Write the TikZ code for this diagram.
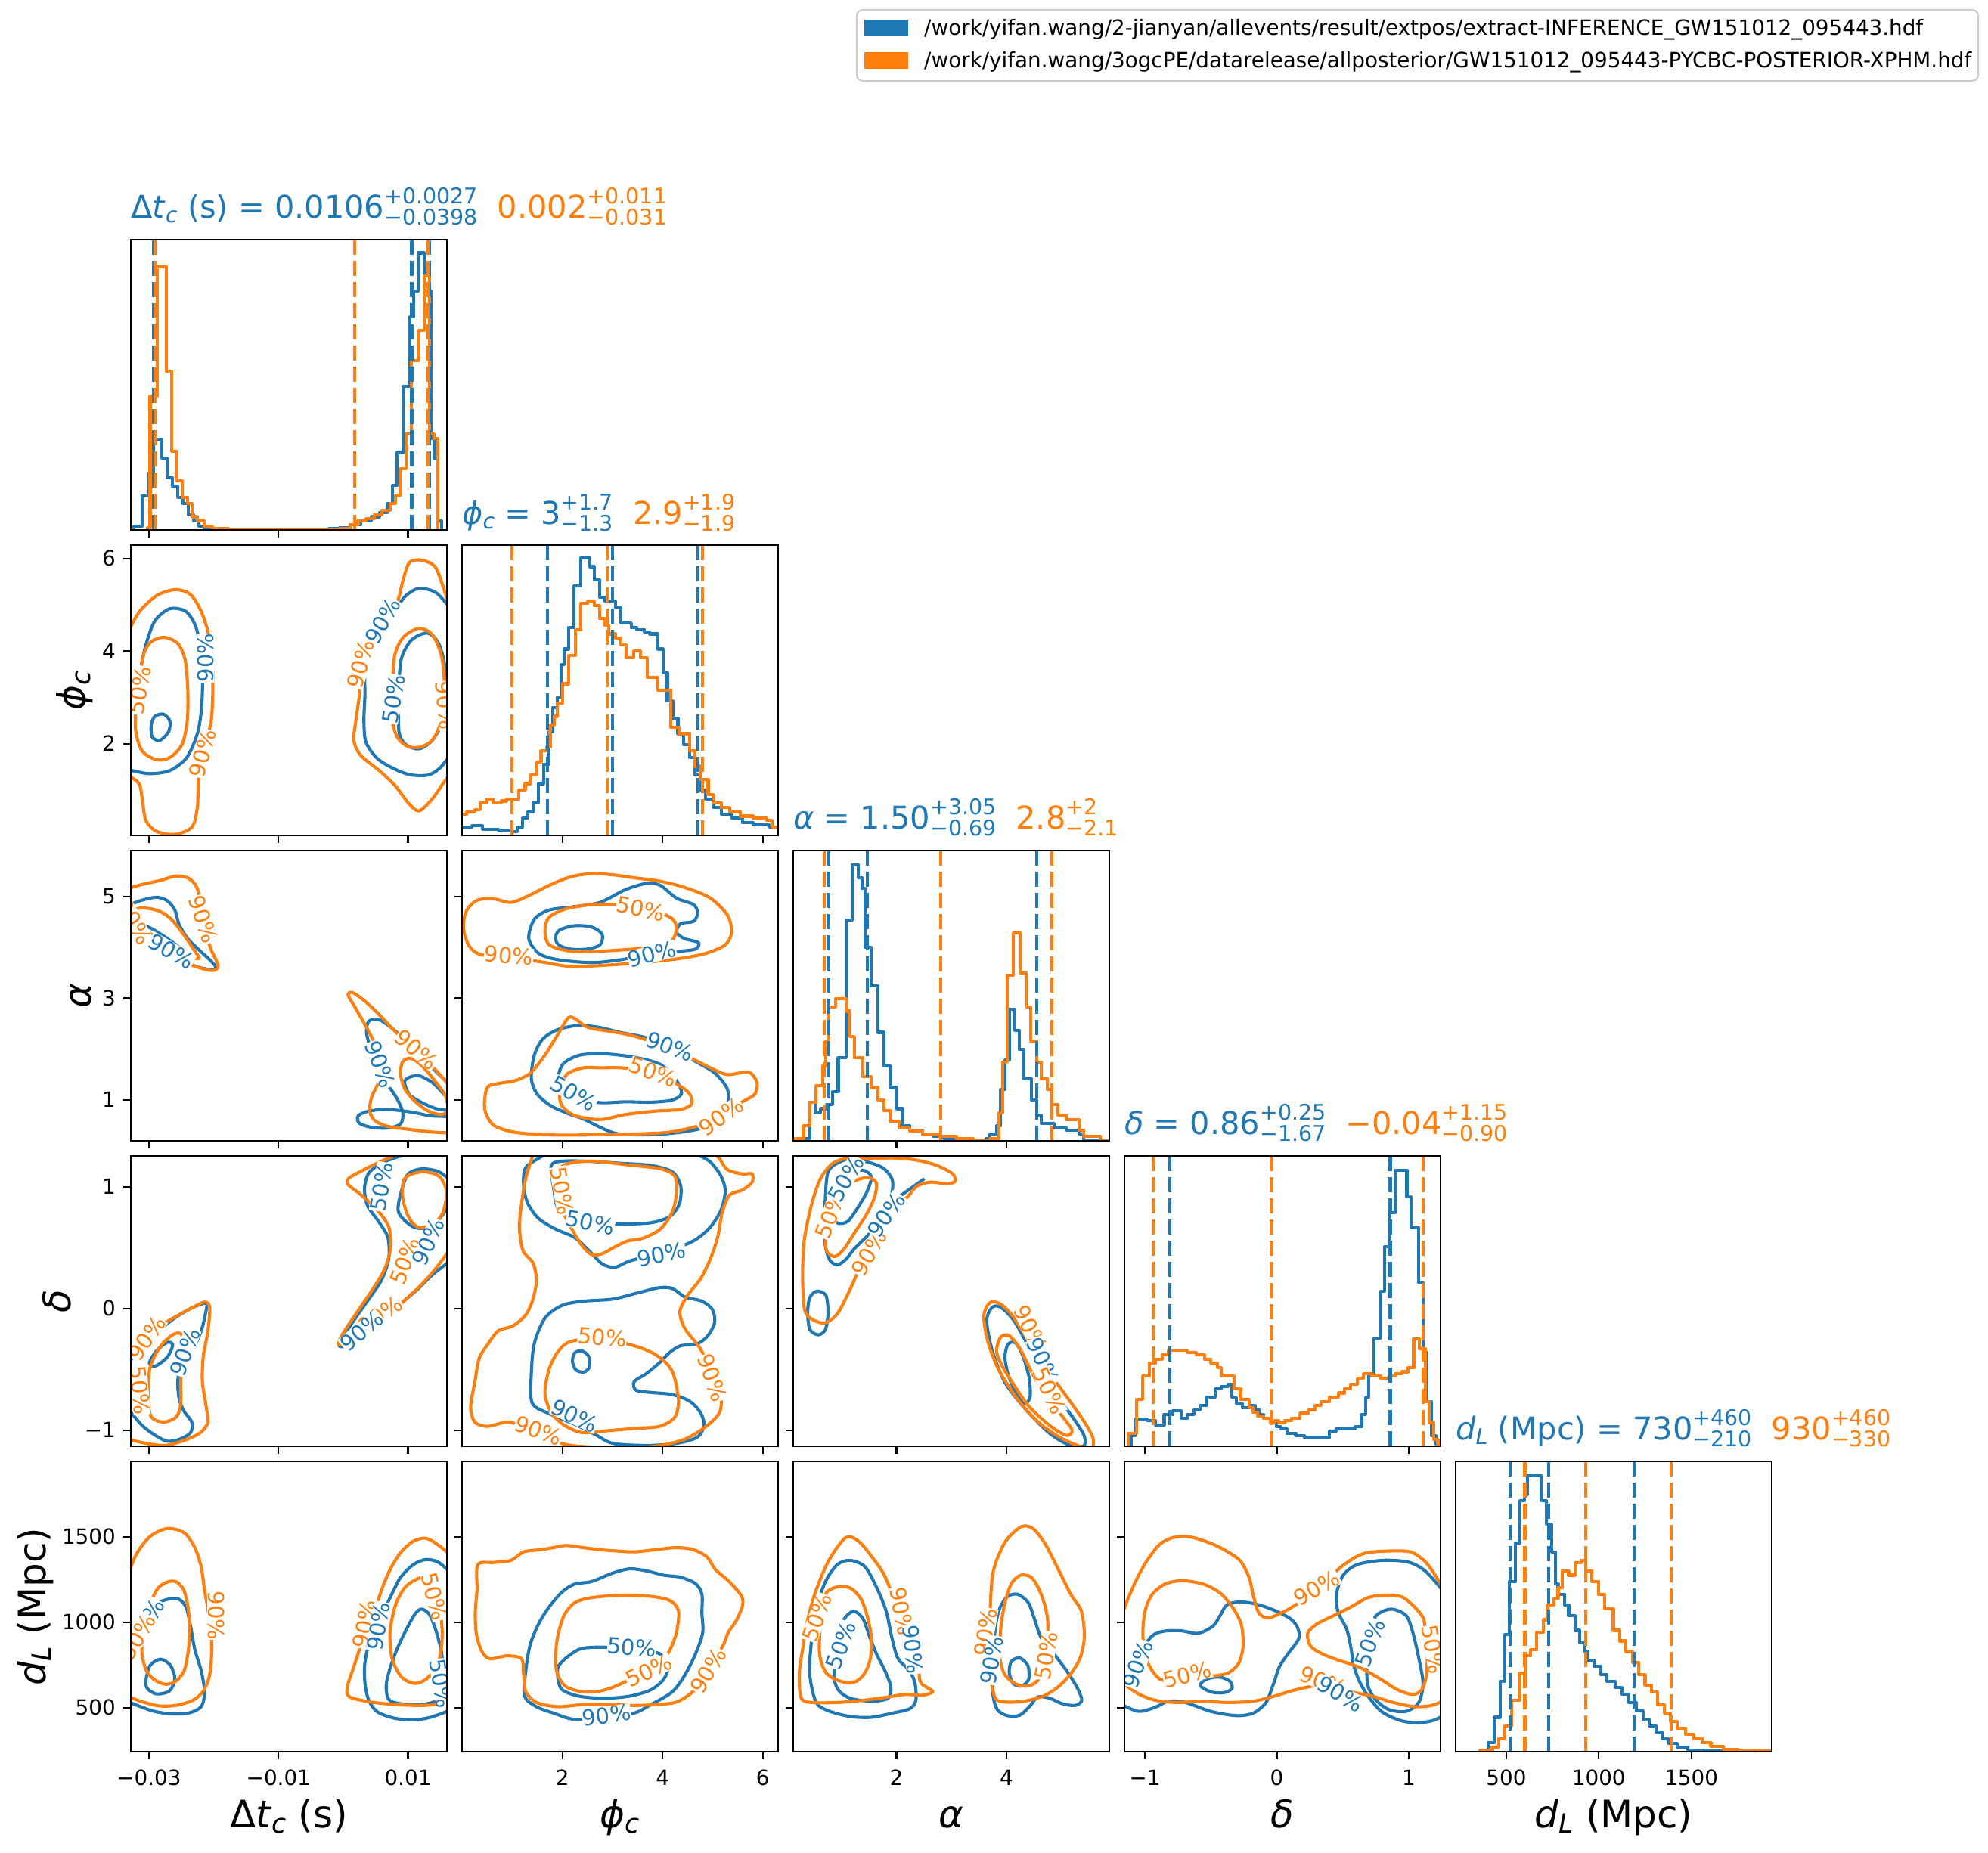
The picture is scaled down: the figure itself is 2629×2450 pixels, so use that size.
\documentclass[tikz,border=0pt]{standalone}
\usepackage{fontspec}
\setmainfont{DejaVu Sans}[ItalicFont={DejaVu Sans Oblique}]
\definecolor{cblue}{HTML}{1F77B4}
\definecolor{corange}{HTML}{FF7F0E}
\definecolor{leggray}{HTML}{CCCCCC}
\newcommand\tickf{\fontsize{27.8pt}{33pt}\selectfont}
\newcommand\ttlf{\fontsize{41.5pt}{48pt}\selectfont}
\newcommand\scrf{\fontsize{28.5pt}{32pt}\selectfont}
\newcommand\labf{\fontsize{50pt}{60pt}\selectfont}
\newcommand\labscrf{\fontsize{35pt}{40pt}\selectfont}
\newcommand\clabf{\fontsize{29pt}{34pt}\selectfont}
\newsavebox\supbx
\newsavebox\subbx
\newcommand\pmst[2]{\sbox\supbx{\scrf #1}\sbox\subbx{\scrf #2}\rlap{\raisebox{18.5pt}{\usebox\supbx}}\raisebox{-9pt}{\usebox\subbx}\ifdim\wd\supbx>\wd\subbx\hspace{\dimexpr\wd\supbx-\wd\subbx\relax}\fi}
\newcommand\subsc[1]{\raisebox{-6pt}{\scrf\itshape #1}}
\newcommand\labsub[1]{\raisebox{-7.5pt}{\labscrf\itshape #1}}
\tikzset{
 Z3/.style={shift={(0pt,-230pt)},x=0.7015pt,y=-0.574pt},
 Z4/.style={shift={(165pt,-1115pt)},x=0.5612pt,y=-0.5612pt},
 Z5/.style={shift={(1040pt,-1040pt)},x=0.5612pt,y=-0.5612pt},
 Z6/.style={shift={(165pt,-1570pt)},x=0.5612pt,y=-0.5612pt},
 Z7/.style={shift={(1040pt,-1570pt)},x=0.5612pt,y=-0.5612pt},
 Z8/.style={shift={(1749pt,-1570pt)},x=0.5612pt,y=-0.5612pt},
 cb/.style={draw=cblue,line width=4.1pt,line join=round},
 co/.style={draw=corange,line width=4.1pt,line join=round},
 db/.style={draw=cblue,line width=4.1pt,dash pattern=on 20pt off 8pt},
 dor/.style={draw=corange,line width=4.1pt,dash pattern=on 20pt off 8pt},
 frame/.style={draw=black,line width=2.6pt},
 tick/.style={draw=black,line width=2.2pt},
 tl/.style={font=\tickf,inner sep=0pt},
 clab/.style={font=\clabf,inner sep=0.3pt,fill=white},
 lb/.style={clab,text=cblue},
 lo/.style={clab,text=corange},
}
\begin{document}
\begin{tikzpicture}[x=1pt,y=-1pt]
\fill[white] (0,0) rectangle (2629,2450);
\useasboundingbox (0,0) rectangle (2629,2450);

% ---------------- legend
\draw[draw=leggray,line width=2pt,rounded corners=8pt,fill=white] (1133,13) rectangle (2616,107);
\fill[cblue] (1143,26) rectangle (1201,48);
\fill[corange] (1143,69) rectangle (1201,91);
\node[tl,anchor=base west] (leg1) at (1222,46) {/work/yifan.wang/2-jianyan/allevents/result/extpos/extract-INFERENCE\_GW151012\_095443.hdf};
\node[tl,anchor=base west] (leg2) at (1222,89) {/work/yifan.wang/3ogcPE/datarelease/allposterior/GW151012\_095443-PYCBC-POSTERIOR-XPHM.hdf};

% ---------------- titles
\node[anchor=base west,inner sep=0pt,text=cblue] (t0) at (173,288) {\ttlf Δ\textit{t}\subsc{c} (s) = 0.0106\pmst{+0.0027}{−0.0398}\hspace{26pt}\textcolor{corange}{0.002\pmst{+0.011}{−0.031}}};
\node[anchor=base west,inner sep=0pt,text=cblue] (t1) at (611,693) {\ttlf \textit{ϕ}\subsc{c} = 3\pmst{+1.7}{−1.3}\hspace{26pt}\textcolor{corange}{2.9\pmst{+1.9}{−1.9}}};
\node[anchor=base west,inner sep=0pt,text=cblue] (t2) at (1049,1096) {\ttlf \textit{α} = 1.50\pmst{+3.05}{−0.69}\hspace{26pt}\textcolor{corange}{2.8\pmst{+2}{−2.1}}};
\node[anchor=base west,inner sep=0pt,text=cblue] (t3) at (1487,1500) {\ttlf \textit{δ} = 0.86\pmst{+0.25}{−1.67}\hspace{26pt}\textcolor{corange}{−0.04\pmst{+1.15}{−0.90}}};
\node[anchor=base west,inner sep=0pt,text=cblue] (t4) at (1925,1904) {\ttlf \textit{d}\subsc{L} (Mpc) = 730\pmst{+460}{−210}\hspace{26pt}\textcolor{corange}{930\pmst{+460}{−330}}};

% ================= HIST 0 (dt_c)
\begin{scope}
\clip (173,317) rectangle ++(418,384);
\begin{scope}[Z3]
\draw[cb] (252,822) -- (252,812) -| (268,742) -| (279,690) -| (290,612) -| (305,655) -| (315,700) -| (325,720) -| (335,745) -| (345,760) -| (355,785) -| (365,800) -| (375,812) -| (385,818) -| (400,821) -| (620,818) -| (640,815) -| (660,808) -| (680,800) -| (700,790) -| (715,780) -| (730,760) -| (740,718) -| (748,642) -| (760,490) -| (772,330) -| (780,270) -| (788,182) -| (800,270) -| (812,610) -| (818,655) -| (825,800) -| (832,822) -- (842,822);
\draw[co] (278,822) -- (278,815) -| (283,512) -| (297,215) -| (314,455) -| (324,640) -| (334,707) -| (344,745) -| (354,760) -| (362,790) -| (372,800) -| (385,812) -| (400,818) -| (430,821) -| (640,818) -| (660,808) -| (675,800) -| (690,795) -| (705,785) -| (720,775) -| (735,760) -| (745,740) -| (755,680) -| (765,600) -| (775,430) -| (790,360) -| (800,235) -| (810,600) -| (818,610) -| (825,822) -- (842,822);
\end{scope}
\draw[db] (203,317) -- (203,701);
\draw[db] (544.5,317) -- (544.5,701);
\draw[db] (567.5,317) -- (567.5,701);
\draw[dor] (205,317) -- (205,701);
\draw[dor] (469,317) -- (469,701);
\draw[dor] (566,317) -- (566,701);
\end{scope}

% ================= HIST 1 (phi_c)
\begin{scope}
\clip (611,721) rectangle ++(418,384);
\begin{scope}[Z3]
\draw[cb] (873,1505) -| (890,1502) -| (910,1510) -| (940,1512) -| (965,1515) -| (975,1505) -| (985,1485) -| (995,1470) -| (1005,1450) -| (1015,1405) -| (1025,1360) -| (1035,1285) -| (1042,1230) -| (1050,1205) -| (1058,1130) -| (1064,1095) -| (1072,1045) -| (1082,950) -| (1095,885) -| (1112,905) -| (1120,935) -| (1130,975) -| (1140,985) -| (1160,1000) -| (1170,1035) -| (1190,1045) -| (1200,1050) -| (1215,1055) -| (1225,1060) -| (1240,1095) -| (1250,1150) -| (1258,1215) -| (1268,1255) -| (1278,1290) -| (1288,1315) -| (1300,1345) -| (1310,1385) -| (1320,1420) -| (1330,1440) -| (1345,1460) -| (1360,1475) -| (1380,1485) -| (1400,1495) -| (1420,1500) -| (1450,1505) -| (1470,1510);
\draw[co] (873,1475) -| (880,1470) -| (895,1465) -| (905,1450) -| (918,1440) -| (930,1450) -| (945,1445) -| (955,1440) -| (978,1420) -| (990,1405) -| (1000,1385) -| (1012,1355) -| (1020,1330) -| (1030,1320) -| (1037,1270) -| (1045,1250) -| (1050,1220) -| (1060,1175) -| (1072,1110) -| (1085,1050) -| (1095,990) -| (1108,985) -| (1120,995) -| (1130,1025) -| (1140,1040) -| (1148,1060) -| (1160,1070) -| (1170,1085) -| (1180,1115) -| (1195,1100) -| (1208,1115) -| (1220,1160) -| (1240,1190) -| (1265,1275) -| (1280,1290) -| (1300,1330) -| (1310,1365) -| (1320,1395) -| (1335,1430) -| (1345,1450) -| (1360,1460) -| (1375,1470) -| (1395,1480) -| (1420,1485) -| (1445,1490) -| (1455,1505) -| (1470,1510);
\end{scope}
\draw[db] (723.7,721) -- (723.7,1105);
\draw[db] (809.9,721) -- (809.9,1105);
\draw[db] (922.6,721) -- (922.6,1105);
\draw[dor] (677.3,721) -- (677.3,1105);
\draw[dor] (803.3,721) -- (803.3,1105);
\draw[dor] (929.2,721) -- (929.2,1105);
\end{scope}

% ================= HIST 2 (alpha)
\begin{scope}
\clip (1049,1125) rectangle ++(418,384);
\begin{scope}[Z5]
\draw[cb] (20,838) -- (20,830) -| (45,830) -| (55,745) -| (68,770) -| (80,760) -| (95,750) -| (108,720) -| (122,640) -| (140,315) -| (155,185) -| (170,215) -| (178,240) -| (185,380) -| (200,470) -| (215,580) -| (230,660) -| (245,710) -| (260,760) -| (275,800) -| (290,810) -| (320,820) -| (345,825) -| (370,830) -| (400,835) -| (470,830) -| (480,820) -| (495,800) -| (505,715) -| (515,645) -| (525,525) -| (538,575) -| (548,620) -| (560,690) -| (578,740) -| (590,775) -| (600,795) -| (630,805) -| (660,810) -| (690,820) -| (700,835) -- (765,835);
\draw[co] (20,838) -- (20,830) -| (40,800) -| (55,745) -| (70,705) -| (85,660) -| (92,600) -| (100,520) -| (115,500) -| (140,530) -| (150,590) -| (160,640) -| (180,685) -| (200,710) -| (215,740) -| (230,765) -| (245,790) -| (265,805) -| (290,812) -| (320,820) -| (360,825) -| (400,830) -| (440,835) -| (480,830) -| (500,770) -| (510,650) -| (520,445) -| (535,345) -| (550,440) -| (565,520) -| (575,600) -| (590,650) -| (600,690) -| (615,715) -| (625,750) -| (640,775) -| (660,785) -| (690,810) -| (700,825) -| (740,835) -- (765,835);
\end{scope}
\draw[db] (1096,1125) -- (1096,1509);
\draw[db] (1147,1125) -- (1147,1509);
\draw[db] (1371,1125) -- (1371,1509);
\draw[dor] (1090,1125) -- (1090,1509);
\draw[dor] (1244,1125) -- (1244,1509);
\draw[dor] (1391,1125) -- (1391,1509);
\end{scope}

% ================= HIST 3 (delta)
\begin{scope}
\clip (1487,1529) rectangle ++(418,384);
\begin{scope}[Z5]
\draw[cb] (812,1558) -- (812,1530) -| (822,1492) -| (850,1495) -| (870,1505) -| (890,1480) -| (910,1472) -| (930,1490) -| (945,1480) -| (960,1470) -| (975,1460) -| (990,1440) -| (1010,1420) -| (1025,1415) -| (1040,1410) -| (1050,1440) -| (1060,1455) -| (1075,1465) -| (1090,1460) -| (1105,1470) -| (1115,1480) -| (1125,1490) -| (1140,1495) -| (1155,1510) -| (1165,1515) -| (1180,1525) -| (1200,1530) -| (1220,1535) -| (1270,1535) -| (1280,1520) -| (1295,1515) -| (1320,1515) -| (1340,1510) -| (1355,1480) -| (1365,1440) -| (1372,1390) -| (1385,1300) -| (1400,1190) -| (1410,1085) -| (1420,1005) -| (1435,905) -| (1462,968) -| (1472,1040) -| (1490,1170) -| (1500,1335) -| (1510,1450) -| (1520,1530) -| (1530,1550) -- (1545,1550);
\draw[co] (805,1558) -- (805,1525) -| (825,1445) -| (840,1390) -| (855,1360) -| (870,1350) -| (885,1340) -| (900,1330) -| (945,1335) -| (965,1340) -| (985,1350) -| (1000,1360) -| (1015,1370) -| (1025,1390) -| (1045,1390) -| (1055,1420) -| (1070,1445) -| (1090,1465) -| (1100,1475) -| (1110,1485) -| (1125,1490) -| (1140,1500) -| (1150,1495) -| (1160,1500) -| (1175,1495) -| (1190,1490) -| (1210,1478) -| (1230,1470) -| (1245,1460) -| (1260,1450) -| (1280,1440) -| (1300,1430) -| (1315,1420) -| (1330,1410) -| (1345,1395) -| (1360,1385) -| (1380,1390) -| (1400,1395) -| (1420,1390) -| (1435,1385) -| (1450,1380) -| (1465,1370) -| (1478,1302) -| (1492,1325) -| (1505,1450) -| (1515,1500) -| (1525,1540) -| (1535,1555) -- (1545,1555);
\end{scope}
\draw[db] (1547,1529) -- (1547,1913);
\draw[db] (1838.5,1529) -- (1838.5,1913);
\draw[db] (1882,1529) -- (1882,1913);
\draw[dor] (1524.6,1529) -- (1524.6,1913);
\draw[dor] (1681.5,1529) -- (1681.5,1913);
\draw[dor] (1882,1529) -- (1882,1913);
\end{scope}

% ================= HIST 4 (d_L)
\begin{scope}
\clip (1925,1933) rectangle ++(418,384);
\begin{scope}[Z8]
\draw[cb] (316,1333) -- (380,1333) -| (380,1328) -| (390,1310) -| (405,1250) -| (418,1165) -| (430,1055) -| (440,930) -| (455,840) -| (465,740) -| (475,725) -| (483,680) -| (515,740) -| (528,795) -| (540,860) -| (548,935) -| (555,960) -| (570,985) -| (580,1010) -| (595,1045) -| (605,1075) -| (618,1095) -| (625,1115) -| (640,1130) -| (655,1150) -| (670,1165) -| (690,1180) -| (705,1195) -| (720,1215) -| (740,1235) -| (755,1255) -| (770,1270) -| (785,1285) -| (800,1300) -| (815,1312) -| (835,1320) -| (860,1327) -| (900,1330) -- (1060,1330);
\draw[co] (316,1332) -| (370,1328) -| (400,1320) -| (415,1300) -| (430,1270) -| (445,1210) -| (465,1145) -| (478,1105) -| (490,1090) -| (505,1050) -| (520,1020) -| (530,985) -| (545,970) -| (555,945) -| (565,905) -| (580,915) -| (595,885) -| (610,880) -| (620,905) -| (635,930) -| (650,960) -| (665,995) -| (685,1045) -| (700,1070) -| (715,1095) -| (730,1120) -| (745,1150) -| (760,1175) -| (775,1190) -| (790,1220) -| (805,1240) -| (820,1260) -| (835,1275) -| (855,1290) -| (875,1300) -| (895,1310) -| (915,1318) -| (945,1325) -| (980,1328) -| (1020,1330) -- (1060,1330);
\end{scope}
\draw[db] (1997,1933) -- (1997,2317);
\draw[db] (2048,1933) -- (2048,2317);
\draw[db] (2161,1933) -- (2161,2317);
\draw[dor] (2016.5,1933) -- (2016.5,2317);
\draw[dor] (2097,1933) -- (2097,2317);
\draw[dor] (2210,1933) -- (2210,2317);
\end{scope}

% ================= PANEL (1,0)
\begin{scope}
\clip (173,721) rectangle ++(418,384);
\begin{scope}[Z3]
\draw[cb] plot[smooth] coordinates {(240,1225) (255,1190) (265,1140) (275,1085) (292,1030) (320,1002) (350,1008) (368,1040) (378,1090) (382,1150) (380,1230) (372,1290) (352,1345) (320,1375) (280,1382) (240,1372)};
\draw[cb] plot[smooth cycle] coordinates {(285,1270) (292,1250) (308,1245) (320,1260) (318,1285) (302,1305) (287,1298)};
\draw[cb] plot[smooth] coordinates {(848,1000) (822,965) (790,955) (765,972) (748,1000) (725,1040) (700,1080) (688,1140) (688,1200) (686,1260) (690,1310) (712,1348) (745,1372) (775,1385) (808,1385) (830,1368) (848,1340)};
\draw[cb] plot[smooth cycle] coordinates {(805,1058) (826,1080) (838,1130) (840,1200) (834,1262) (815,1305) (790,1325) (765,1315) (752,1285) (752,1200) (756,1120) (775,1075)};
\draw[co] plot[smooth] coordinates {(240,1060) (262,1010) (295,972) (330,958) (358,968) (378,1005) (392,1055) (400,1120) (401,1200) (398,1262) (390,1300) (380,1345) (374,1400) (372,1460) (362,1505) (330,1522) (295,1515) (275,1490) (268,1440) (262,1405) (240,1385)};
\draw[co] plot[smooth cycle] coordinates {(262,1180) (270,1110) (285,1078) (310,1068) (335,1082) (349,1120) (354,1190) (353,1260) (343,1315) (320,1345) (295,1350) (268,1330) (256,1285) (256,1230)};
\draw[co] plot[smooth] coordinates {(845,990) (835,950) (820,905) (795,890) (772,895) (760,935) (748,990) (725,1030) (700,1065) (688,1110) (680,1180) (672,1250) (667,1305) (680,1340) (715,1375) (745,1410) (770,1450) (790,1468) (815,1440) (835,1405) (848,1385)};
\draw[co] plot[smooth cycle] coordinates {(790,1047) (815,1062) (832,1110) (838,1180) (834,1250) (818,1300) (795,1320) (770,1320) (750,1300) (740,1260) (740,1180) (744,1110) (760,1068)};
\node[lb,rotate=90] at (388,1115) {90\%};
\node[lo,rotate=75] at (382,1335) {90\%};
\node[lo,rotate=80] at (263,1190) {50\%};
\node[lo,rotate=75] at (680,1130) {90\%};
\node[lb,rotate=60] at (722,1030) {90\%};
\node[lb,rotate=80] at (742,1210) {50\%};
\node[lo,rotate=-85] at (840,1225) {90\%};
\end{scope}
\end{scope}

% ================= PANEL (2,0)
\begin{scope}
\clip (173,1125) rectangle ++(418,384);
\begin{scope}[Z4]
\draw[cb] plot[smooth] coordinates {(5,148) (40,135) (75,128) (100,136) (118,158) (128,192) (148,225) (178,255) (205,280) (215,295) (198,298) (165,290) (125,270) (85,245) (45,215) (5,190)};
\draw[cb] plot[smooth cycle] coordinates {(40,195) (60,200) (100,225) (140,255) (160,275) (150,280) (115,262) (75,237) (45,215) (35,202)};
\draw[cb] plot[smooth] coordinates {(775,578) (745,550) (705,510) (665,468) (630,437) (600,417) (575,420) (570,450) (585,500) (610,555) (640,600) (655,635) (650,662) (620,672) (580,670) (552,660) (550,643) (575,632) (620,628) (680,635) (720,643) (775,645)};
\draw[cb] plot[smooth cycle] coordinates {(660,560) (690,548) (725,565) (755,595) (775,615) (775,628) (740,628) (700,612) (670,592)};
\draw[co] plot[smooth] coordinates {(5,108) (40,98) (85,88) (120,78) (150,83) (170,105) (180,150) (190,210) (205,255) (220,288) (212,300) (190,298) (150,285) (110,265) (70,240) (35,218) (5,205)};
\draw[co] plot[smooth] coordinates {(5,162) (40,153) (80,160) (110,180) (140,218) (165,255) (175,272) (150,268) (110,245) (70,220) (35,198) (5,185)};
\draw[co] plot[smooth] coordinates {(775,684) (720,681) (670,675) (620,668) (590,655) (577,632) (582,598) (600,560) (606,520) (592,478) (568,432) (543,388) (526,358) (535,352) (560,368) (595,400) (635,442) (680,485) (720,522) (750,555) (775,585)};
\draw[co] plot[smooth cycle] coordinates {(655,515) (675,508) (700,525) (730,560) (755,595) (762,630) (745,640) (715,632) (685,610) (660,580) (650,545)};
\node[lo,rotate=-72] at (185,180) {90\%};
\node[lb,rotate=-30] at (110,255) {90\%};
\node[lo,rotate=-60] at (22,185) {90\%};
\node[lo,rotate=-40] at (688,487) {90\%};
\node[lb,rotate=-70] at (602,522) {90\%};
\end{scope}
\end{scope}

% ================= PANEL (2,1)
\begin{scope}
\clip (611,1125) rectangle ++(418,384);
\begin{scope}[Z4]
\draw[cb] plot[smooth cycle] coordinates {(952,225) (965,180) (1000,158) (1060,150) (1120,140) (1180,110) (1230,95) (1262,100) (1300,130) (1340,145) (1350,165) (1340,185) (1310,190) (1300,210) (1318,225) (1352,235) (1345,250) (1310,255) (1240,262) (1170,275) (1100,282) (1020,275) (975,260)};
\draw[cb] plot[smooth cycle] coordinates {(1015,222) (1025,205) (1060,195) (1100,198) (1125,215) (1120,240) (1090,250) (1050,250) (1022,240)};
\draw[cb] plot[smooth cycle] coordinates {(958,555) (965,500) (985,462) (1020,440) (1070,430) (1120,435) (1165,446) (1225,458) (1285,480) (1345,515) (1390,542) (1420,580) (1420,620) (1400,650) (1360,672) (1300,683) (1230,688) (1160,685) (1120,670) (1080,650) (1050,640) (1005,620) (972,592)};
\draw[cb] plot[smooth cycle] coordinates {(1022,565) (1032,522) (1072,500) (1132,497) (1200,505) (1262,522) (1300,560) (1312,590) (1290,606) (1240,611) (1180,610) (1120,612) (1060,600)};
\draw[co] plot[smooth cycle] coordinates {(835,262) (810,240) (798,200) (805,160) (830,135) (870,132) (910,140) (950,125) (1000,100) (1050,80) (1100,72) (1150,75) (1200,82) (1260,90) (1320,105) (1380,130) (1420,170) (1430,210) (1415,240) (1370,260) (1310,272) (1240,280) (1180,285) (1100,290) (1040,290) (980,280) (900,270)};
\draw[co] plot[smooth cycle] coordinates {(990,205) (1000,175) (1040,155) (1100,145) (1150,145) (1215,150) (1285,175) (1300,200) (1290,230) (1260,245) (1200,250) (1120,255) (1050,255) (1000,240)};
\draw[co] plot[smooth cycle] coordinates {(848,605) (855,575) (880,567) (920,560) (955,543) (990,500) (1020,452) (1045,412) (1062,415) (1092,435) (1150,445) (1200,455) (1260,475) (1300,492) (1340,510) (1380,530) (1420,546) (1470,540) (1490,565) (1485,592) (1468,603) (1420,630) (1380,655) (1340,670) (1280,682) (1200,686) (1100,688) (1000,688) (920,682) (870,666) (850,635)};
\draw[co] plot[smooth cycle] coordinates {(1025,595) (1040,547) (1080,530) (1120,530) (1172,530) (1240,540) (1300,568) (1330,590) (1336,615) (1310,628) (1250,632) (1180,640) (1120,652) (1062,643) (1032,622)};
\node[lo,rotate=-5] at (905,265) {90\%};
\node[lb,rotate=15] at (1242,262) {90\%};
\node[lo,rotate=-12] at (1215,155) {50\%};
\node[lb,rotate=-20] at (1285,480) {90\%};
\node[lo,rotate=-20] at (1245,540) {50\%};
\node[lb,rotate=-30] at (1058,590) {50\%};
\node[lo,rotate=35] at (1405,645) {90\%};
\end{scope}
\end{scope}

% ================= PANEL (3,0)
\begin{scope}
\clip (173,1529) rectangle ++(418,384);
\begin{scope}[Z4]
\draw[cb] plot[smooth] coordinates {(5,1228) (40,1190) (80,1150) (120,1118) (160,1095) (192,1085) (190,1110) (180,1150) (160,1195) (135,1230) (125,1265) (128,1310) (140,1340) (158,1365) (155,1390) (130,1405) (100,1410) (70,1395) (40,1372) (5,1330)};
\draw[cb] plot[smooth cycle] coordinates {(58,1225) (75,1197) (100,1177) (113,1183) (100,1212) (72,1233)};
\draw[cb] plot[smooth] coordinates {(660,735) (610,752) (575,778) (565,815) (572,855) (598,892) (620,930) (622,980) (605,1030) (575,1075) (542,1122) (512,1168) (505,1185) (522,1186) (560,1165) (605,1128) (648,1088) (690,1052) (728,1015) (768,985)};
\draw[cb] plot[smooth cycle] coordinates {(645,870) (680,905) (720,905) (750,875) (768,840) (768,800) (740,775) (700,768) (668,780) (652,820)};
\draw[co] plot[smooth] coordinates {(5,1215) (30,1185) (65,1150) (105,1125) (150,1100) (188,1082) (200,1095) (196,1150) (185,1210) (183,1270) (192,1330) (196,1365) (178,1390) (140,1408) (95,1420) (50,1415) (5,1405)};
\draw[co] plot[smooth cycle] coordinates {(55,1300) (60,1235) (85,1185) (115,1158) (135,1160) (138,1210) (132,1265) (132,1320) (122,1352) (92,1365) (62,1352)};
\draw[co] plot[smooth] coordinates {(640,735) (600,752) (560,772) (528,790) (526,805) (555,828) (595,865) (622,905) (626,955) (612,1005) (582,1055) (548,1105) (518,1150) (503,1180) (525,1182) (565,1158) (610,1122) (655,1082) (698,1042) (735,1000) (768,955)};
\draw[co] plot[smooth cycle] coordinates {(660,790) (700,775) (740,785) (758,820) (750,870) (725,900) (690,905) (668,880) (655,835)};
\node[lo,rotate=55] at (52,1168) {90\%};
\node[lb,rotate=70] at (142,1200) {90\%};
\node[lo,rotate=-85] at (36,1290) {50\%};
\node[lb,rotate=80] at (605,810) {50\%};
\node[lo,rotate=70] at (660,985) {50\%};
\node[lb,rotate=65] at (715,940) {90\%};
\node[lo,rotate=35] at (602,1112) {90\%};
\node[lb,rotate=40] at (558,1150) {90\%};
\end{scope}
\end{scope}

% ================= PANEL (3,1)
\begin{scope}
\clip (611,1529) rectangle ++(418,384);
\begin{scope}[Z4]
\draw[cb] plot[smooth] coordinates {(990,735) (945,765) (940,810) (950,850) (975,885) (1015,910) (1060,930) (1095,962) (1125,992) (1155,1000) (1190,985) (1240,972) (1300,955) (1345,935) (1380,905) (1405,865) (1415,820) (1405,785) (1380,752) (1350,735)};
\draw[cb] plot[smooth cycle] coordinates {(1005,760) (1010,810) (1020,860) (1045,883) (1100,895) (1170,898) (1240,895) (1285,880) (1307,850) (1310,808) (1290,775) (1240,760) (1170,755) (1090,750) (1030,750)};
\draw[cb] plot[smooth cycle] coordinates {(960,1320) (958,1250) (965,1180) (990,1120) (1030,1090) (1080,1080) (1150,1075) (1210,1060) (1260,1048) (1290,1050) (1320,1070) (1360,1080) (1385,1100) (1390,1130) (1375,1160) (1350,1180) (1310,1185) (1285,1200) (1260,1225) (1230,1250) (1200,1270) (1205,1290) (1240,1295) (1290,1300) (1330,1315) (1355,1340) (1365,1370) (1350,1400) (1300,1415) (1230,1420) (1150,1415) (1110,1395) (1060,1370) (1000,1345)};
\draw[cb] plot[smooth cycle] coordinates {(1055,1222) (1060,1202) (1077,1197) (1093,1210) (1095,1235) (1082,1247) (1063,1242)};
\draw[co] plot[smooth] coordinates {(962,735) (945,790) (935,850) (930,905) (938,960) (962,990) (970,1030) (962,1075) (945,1112) (915,1138) (880,1150) (855,1182) (835,1215) (825,1270) (815,1330) (825,1365) (855,1375) (905,1365) (960,1385) (1040,1418) (1150,1425) (1250,1422) (1320,1405) (1370,1375) (1400,1345) (1405,1310) (1385,1250) (1355,1190) (1320,1145) (1308,1105) (1325,1068) (1358,1025) (1382,975) (1398,925) (1408,870) (1425,830) (1455,818) (1478,800) (1478,780) (1455,780) (1420,770) (1400,742) (1390,735)};
\draw[co] plot[smooth cycle] coordinates {(1012,785) (1040,757) (1100,750) (1180,758) (1262,768) (1296,785) (1300,825) (1290,870) (1262,910) (1220,932) (1185,938) (1155,952) (1125,968) (1100,970) (1078,950) (1058,918) (1035,875) (1015,830)};
\draw[co] plot[smooth cycle] coordinates {(1050,1175) (1020,1200) (1000,1240) (990,1290) (995,1320) (1010,1350) (1040,1375) (1080,1390) (1140,1385) (1200,1380) (1260,1375) (1295,1355) (1305,1320) (1300,1280) (1290,1245) (1270,1220) (1240,1200) (1200,1185) (1125,1168)};
\node[lo,rotate=-80] at (1030,820) {50\%};
\node[lb,rotate=-12] at (1097,895) {50\%};
\node[lb,rotate=12] at (1265,970) {90\%};
\node[lo,rotate=-5] at (1125,1165) {50\%};
\node[lo,rotate=-70] at (1385,1260) {90\%};
\node[lb,rotate=-25] at (1060,1350) {90\%};
\node[lo,rotate=-20] at (975,1385) {90\%};
\end{scope}
\end{scope}

% ================= PANEL (3,2)
\begin{scope}
\clip (1049,1529) rectangle ++(418,384);
\begin{scope}[Z5]
\draw[cb] plot[smooth cycle] coordinates {(90,1050) (92,965) (100,905) (140,880) (185,884) (228,900) (250,930) (245,975) (225,1018) (195,1055) (160,1090) (140,1115) (120,1128) (103,1118) (93,1090)};
\draw[cb] plot[smooth] coordinates {(240,985) (280,957) (325,925)};
\draw[cb] plot[smooth cycle] coordinates {(105,990) (115,940) (145,912) (180,905) (200,920) (190,955) (170,990) (145,1025) (122,1030) (108,1015)};
\draw[cb] plot[smooth cycle] coordinates {(50,1240) (55,1205) (72,1190) (93,1200) (98,1240) (92,1280) (75,1293) (55,1280)};
\draw[cb] plot[smooth cycle] coordinates {(472,1260) (485,1228) (505,1228) (535,1258) (565,1310) (600,1375) (640,1440) (680,1495) (702,1532) (700,1555) (665,1552) (620,1525) (565,1470) (515,1405) (485,1330)};
\draw[cb] plot[smooth cycle] coordinates {(515,1345) (522,1315) (540,1312) (558,1345) (572,1395) (574,1440) (560,1455) (540,1430) (522,1385)};
\draw[co] plot[smooth cycle] coordinates {(42,1230) (38,1150) (42,1070) (58,990) (80,925) (110,888) (150,876) (200,878) (250,876) (300,880) (350,892) (390,912) (398,930) (380,937) (340,933) (308,942) (285,968) (250,1000) (215,1045) (190,1090) (170,1140) (148,1190) (120,1243) (90,1265) (58,1255)};
\draw[co] plot[smooth cycle] coordinates {(92,1080) (100,1010) (118,963) (150,935) (190,922) (212,935) (207,970) (188,1010) (162,1050) (136,1090) (115,1108) (98,1100)};
\draw[co] plot[smooth cycle] coordinates {(465,1250) (478,1218) (500,1218) (528,1242) (560,1290) (590,1340) (625,1390) (665,1445) (700,1495) (722,1535) (720,1558) (690,1555) (645,1535) (595,1500) (545,1445) (500,1375) (475,1310)};
\draw[co] plot[smooth cycle] coordinates {(495,1330) (505,1298) (525,1295) (550,1325) (580,1385) (615,1440) (650,1485) (673,1518) (660,1530) (622,1508) (572,1462) (532,1405) (505,1360)};
\node[lo,rotate=70] at (103,1010) {50\%};
\node[lb,rotate=60] at (140,925) {50\%};
\node[lo,rotate=60] at (195,1100) {90\%};
\node[lb,rotate=55] at (235,1010) {90\%};
\node[lo,rotate=-65] at (575,1278) {90\%};
\node[lb,rotate=-65] at (605,1355) {90\%};
\node[lo,rotate=-65] at (620,1425) {50\%};
\end{scope}
\end{scope}

% ================= PANEL (4,0)
\begin{scope}
\clip (173,1933) rectangle ++(418,384);
\begin{scope}[Z6]
\draw[cb] plot[smooth] coordinates {(5,1085) (30,1030) (60,990) (100,972) (128,972) (145,992) (155,1035) (165,1090) (180,1140) (188,1190) (180,1225) (150,1240) (110,1242) (70,1236) (40,1226) (5,1212)};
\draw[cb] plot[smooth cycle] coordinates {(50,1162) (60,1127) (85,1113) (108,1128) (118,1160) (105,1188) (75,1195) (53,1182)};
\draw[cb] plot[smooth] coordinates {(770,912) (740,885) (710,878) (680,890) (650,920) (630,958) (610,1000) (580,1060) (566,1120) (566,1170) (575,1210) (595,1237) (635,1252) (680,1256) (720,1250) (770,1232)};
\draw[cb] plot[smooth cycle] coordinates {(700,995) (718,1008) (733,1045) (746,1095) (750,1150) (742,1205) (700,1220) (650,1218) (622,1208) (616,1175) (625,1135) (642,1088) (665,1040) (685,1005)};
\draw[co] plot[smooth] coordinates {(5,925) (25,870) (58,825) (100,805) (140,815) (165,850) (180,895) (188,950) (200,1020) (205,1085) (200,1150) (185,1188) (160,1210) (120,1222) (80,1223) (40,1213) (5,1200)};
\draw[co] plot[smooth cycle] coordinates {(40,1090) (50,1010) (75,950) (98,932) (120,930) (138,948) (148,985) (153,1035) (150,1090) (140,1140) (120,1165) (95,1172) (68,1160) (50,1138)};
\draw[co] plot[smooth] coordinates {(770,870) (740,845) (710,828) (680,835) (650,862) (625,902) (605,950) (585,1010) (560,1070) (540,1130) (524,1180) (530,1202) (580,1214) (640,1220) (700,1222) (740,1218) (770,1205)};
\draw[co] plot[smooth cycle] coordinates {(700,920) (725,930) (742,985) (748,1060) (738,1125) (710,1160) (682,1170) (652,1155) (630,1112) (625,1050) (638,985) (662,942)};
\node[lo,rotate=-90] at (215,1010) {90\%};
\node[lb,rotate=60] at (52,1025) {90\%};
\node[lo,rotate=60] at (30,1060) {50\%};
\node[lo,rotate=80] at (565,1030) {90\%};
\node[lb,rotate=80] at (598,1035) {90\%};
\node[lo,rotate=-75] at (730,965) {50\%};
\node[lb,rotate=-80] at (745,1170) {50\%};
\end{scope}
\end{scope}

% ================= PANEL (4,1)
\begin{scope}
\clip (611,1933) rectangle ++(418,384);
\begin{scope}[Z6]
\draw[cb] plot[smooth cycle] coordinates {(942,1200) (945,1140) (955,1080) (975,1030) (1000,990) (1030,955) (1060,936) (1100,930) (1150,910) (1190,900) (1230,905) (1270,915) (1310,920) (1345,935) (1360,960) (1360,1005) (1362,1050) (1345,1100) (1320,1150) (1290,1190) (1240,1220) (1200,1240) (1130,1250) (1060,1255) (1010,1240) (970,1225)};
\draw[cb] plot[smooth cycle] coordinates {(1020,1135) (1040,1110) (1070,1090) (1100,1085) (1140,1085) (1200,1088) (1260,1100) (1280,1130) (1270,1160) (1240,1185) (1190,1200) (1130,1205) (1070,1200) (1028,1182)};
\draw[co] plot[smooth cycle] coordinates {(830,950) (832,890) (870,885) (910,880) (940,860) (980,855) (1010,850) (1040,845) (1080,850) (1120,855) (1160,858) (1200,860) (1250,855) (1300,850) (1340,855) (1372,872) (1392,902) (1422,928) (1452,962) (1456,985) (1442,1020) (1422,1050) (1410,1080) (1375,1140) (1340,1188) (1300,1214) (1250,1220) (1200,1222) (1150,1220) (1080,1220) (1020,1225) (970,1215) (945,1190) (940,1150) (935,1112) (900,1105) (860,1112) (840,1092) (828,1050) (826,1000)};
\draw[co] plot[smooth cycle] coordinates {(1285,1090) (1300,1050) (1305,1000) (1285,975) (1240,965) (1170,962) (1100,968) (1060,980) (1035,1010) (1020,1060) (1015,1110) (1020,1150) (1040,1178) (1080,1190) (1120,1188) (1160,1175) (1230,1140) (1270,1110)};
\node[lb,rotate=8] at (1135,1245) {90\%};
\node[lb,rotate=-5] at (1195,1085) {50\%};
\node[lo,rotate=25] at (1235,1140) {50\%};
\node[lo,rotate=60] at (1375,1140) {90\%};
\end{scope}
\end{scope}

% ================= PANEL (4,2)
\begin{scope}
\clip (1049,1933) rectangle ++(418,384);
\begin{scope}[Z7]
\draw[cb] plot[smooth cycle] coordinates {(55,1150) (58,1080) (70,995) (92,930) (120,890) (150,880) (185,895) (213,945) (235,1000) (248,1060) (262,1110) (285,1135) (302,1165) (305,1210) (290,1230) (250,1240) (200,1250) (150,1248) (100,1235) (70,1215)};
\draw[cb] plot[smooth cycle] coordinates {(112,1150) (120,1070) (135,1020) (158,1000) (180,1017) (196,1060) (212,1100) (232,1140) (246,1178) (240,1205) (200,1212) (150,1205) (122,1185)};
\draw[cb] plot[smooth cycle] coordinates {(487,1150) (490,1060) (500,1000) (520,966) (545,960) (570,980) (585,1020) (600,1062) (630,1100) (660,1140) (685,1180) (696,1210) (680,1222) (650,1218) (620,1205) (592,1202) (575,1222) (550,1245) (520,1246) (497,1232) (487,1200)};
\draw[cb] plot[smooth cycle] coordinates {(525,1145) (530,1118) (550,1110) (569,1128) (571,1160) (555,1176) (535,1171)};
\draw[co] plot[smooth cycle] coordinates {(35,1205) (30,1150) (38,1090) (50,1020) (70,950) (100,880) (140,826) (170,835) (200,870) (228,910) (250,960) (275,1020) (300,1065) (310,1110) (315,1165) (332,1180) (345,1190) (320,1198) (280,1196) (240,1202) (180,1210) (120,1215) (60,1215)};
\draw[co] plot[smooth cycle] coordinates {(78,1100) (80,1030) (90,962) (118,943) (150,945) (175,970) (190,1010) (200,1060) (198,1110) (185,1145) (165,1165) (140,1168) (110,1158) (90,1140)};
\draw[co] plot[smooth cycle] coordinates {(480,1000) (485,920) (497,875) (520,830) (555,800) (582,806) (610,842) (640,900) (670,960) (695,1000) (702,1060) (692,1110) (668,1150) (638,1180) (605,1200) (560,1212) (518,1214) (492,1205) (482,1150) (480,1080)};
\draw[co] plot[smooth cycle] coordinates {(503,1110) (505,1040) (515,980) (530,935) (552,915) (577,920) (596,950) (610,990) (616,1030) (612,1100) (596,1158) (570,1176) (540,1171) (515,1150)};
\node[lo,rotate=-80] at (272,1000) {90\%};
\node[lb,rotate=-85] at (298,1090) {90\%};
\node[lo,rotate=70] at (72,1015) {50\%};
\node[lb,rotate=70] at (128,1080) {50\%};
\node[lo,rotate=80] at (470,1050) {90\%};
\node[lb,rotate=80] at (484,1115) {90\%};
\node[lo,rotate=80] at (612,1105) {50\%};
\end{scope}
\end{scope}

% ================= PANEL (4,3)
\begin{scope}
\clip (1487,1933) rectangle ++(418,384);
\begin{scope}[Z7]
\draw[cb] plot[smooth] coordinates {(790,1220) (830,1236) (870,1226) (900,1212) (940,1215) (1000,1236) (1060,1246) (1100,1240) (1130,1215) (1148,1170) (1162,1130) (1182,1100) (1207,1065) (1205,1040) (1188,1018) (1150,998) (1110,984) (1070,978) (1038,985) (1022,1010) (1005,1035) (970,1052) (930,1046) (890,1047) (862,1058) (830,1100) (812,1140) (790,1170)};
\draw[cb] plot[smooth] coordinates {(1550,955) (1505,905) (1465,884) (1405,880) (1345,890) (1312,915) (1296,960) (1300,1002) (1320,1042) (1330,1085) (1336,1125) (1350,1165) (1372,1202) (1402,1236) (1442,1256) (1482,1263) (1522,1258) (1550,1245)};
\draw[cb] plot[smooth cycle] coordinates {(1390,1010) (1425,995) (1460,1010) (1476,1050) (1490,1110) (1500,1170) (1490,1215) (1460,1236) (1420,1232) (1390,1210) (1370,1175) (1368,1120) (1375,1050)};
\draw[cb] plot[smooth cycle] coordinates {(975,1175) (990,1160) (1020,1155) (1045,1165) (1050,1182) (1030,1192) (1000,1190)};
\draw[co] plot[smooth] coordinates {(790,1010) (805,970) (825,925) (850,880) (880,842) (912,826) (952,825) (1000,840) (1040,860) (1070,882) (1090,920) (1100,962) (1112,1002) (1132,1016) (1162,1006) (1200,985) (1250,948) (1310,893) (1360,864) (1420,858) (1470,860) (1502,880) (1522,905) (1550,950)};
\draw[co] plot[smooth] coordinates {(790,1168) (830,1195) (870,1210) (920,1215) (980,1212) (1040,1215) (1100,1212) (1150,1200) (1200,1185) (1260,1175) (1330,1190) (1380,1200) (1430,1215) (1480,1225) (1520,1222) (1550,1210)};
\draw[co] plot[smooth cycle] coordinates {(1500,1015) (1480,990) (1450,966) (1410,962) (1370,968) (1330,990) (1290,1010) (1250,1030) (1228,1052) (1235,1082) (1262,1100) (1300,1115) (1350,1132) (1400,1160) (1440,1185) (1475,1196) (1497,1185) (1508,1150) (1510,1090) (1505,1040)};
\draw[co] plot[smooth cycle] coordinates {(880,1160) (852,1122) (840,1060) (845,1000) (862,960) (892,936) (932,928) (982,936) (1022,957) (1052,992) (1072,1032) (1076,1082) (1066,1122) (1042,1145) (1010,1152) (960,1158) (920,1162)};
\node[lo,rotate=30] at (1250,945) {90\%};
\node[lo,rotate=15] at (945,1150) {50\%};
\node[lb,rotate=70] at (828,1125) {90\%};
\node[lo,rotate=-20] at (1265,1165) {90\%};
\node[lb,rotate=-30] at (1305,1195) {90\%};
\node[lb,rotate=70] at (1375,1075) {50\%};
\node[lo,rotate=-80] at (1524,1090) {50\%};
\end{scope}
\end{scope}

% ================= frames
\foreach \c/\r in {0/0,0/1,0/2,0/3,0/4,1/1,1/2,1/3,1/4,2/2,2/3,2/4,3/3,3/4,4/4}{
  \draw[frame] ({173+438*\c},{317+404*\r}) rectangle ++(418,384);
}
% bottom ticks
\foreach \b in {701,1105,1509,1913,2317}{\foreach \t in {197,368.3,539.5}{\draw[tick] (\t,\b) -- ++(0,10);}}
\foreach \b in {1105,1509,1913,2317}{\foreach \t in {743.6,876.2,1008.8}{\draw[tick] (\t,\b) -- ++(0,10);}}
\foreach \b in {1509,1913,2317}{\foreach \t in {1185.4,1331}{\draw[tick] (\t,\b) -- ++(0,10);}}
\foreach \b in {1913,2317}{\foreach \t in {1514,1688.5,1863}{\draw[tick] (\t,\b) -- ++(0,10);}}
\foreach \t in {1992,2114.3,2236.6}{\draw[tick] (\t,2317) -- ++(0,10);}
% left ticks
\foreach \t in {739,861.4,983.7}{\draw[tick] (173,\t) -- ++(-10,0);}
\foreach \l in {173,611}{\foreach \t in {1186,1320.4,1454.8}{\draw[tick] (\l,\t) -- ++(-10,0);}}
\foreach \l in {173,611,1049}{\foreach \t in {1570,1731,1892}{\draw[tick] (\l,\t) -- ++(-10,0);}}
\foreach \l in {173,611,1049,1487}{\foreach \t in {2032.6,2145.7,2258.8}{\draw[tick] (\l,\t) -- ++(-10,0);}}

% tick labels x
\node[tl,anchor=base] at (197,2361) {−0.03};
\node[tl,anchor=base] at (368.3,2361) {−0.01};
\node[tl,anchor=base] at (539.5,2361) {0.01};
\node[tl,anchor=base] at (743.6,2361) {2};
\node[tl,anchor=base] at (876.2,2361) {4};
\node[tl,anchor=base] at (1008.8,2361) {6};
\node[tl,anchor=base] at (1185.4,2361) {2};
\node[tl,anchor=base] at (1331,2361) {4};
\node[tl,anchor=base] at (1514,2361) {−1};
\node[tl,anchor=base] at (1688.5,2361) {0};
\node[tl,anchor=base] at (1863,2361) {1};
\node[tl,anchor=base] at (1992,2361) {500};
\node[tl,anchor=base] at (2114.3,2361) {1000};
\node[tl,anchor=base] at (2236.6,2361) {1500};
% tick labels y
\node[tl,anchor=base east] at (153,748.8) {6};
\node[tl,anchor=base east] at (153,871.2) {4};
\node[tl,anchor=base east] at (153,993.5) {2};
\node[tl,anchor=base east] at (153,1195.8) {5};
\node[tl,anchor=base east] at (153,1330.2) {3};
\node[tl,anchor=base east] at (153,1464.6) {1};
\node[tl,anchor=base east] at (153,1579.8) {1};
\node[tl,anchor=base east] at (153,1740.8) {0};
\node[tl,anchor=base east] at (153,1901.8) {−1};
\node[tl,anchor=base east] at (153,2042.4) {1500};
\node[tl,anchor=base east] at (153,2155.5) {1000};
\node[tl,anchor=base east] at (153,2268.6) {500};

% axis labels
\node[inner sep=0pt,anchor=base] (xl0) at (382,2417) {\labf Δ\textit{t}\labsub{c} (s)};
\node[inner sep=0pt,anchor=base] (xl1) at (820,2417) {\labf \textit{ϕ}\labsub{c}};
\node[inner sep=0pt,anchor=base] (xl2) at (1258,2417) {\labf \textit{α}};
\node[inner sep=0pt,anchor=base] (xl3) at (1696,2417) {\labf \textit{δ}};
\node[inner sep=0pt,anchor=base] (xl4) at (2134,2417) {\labf \textit{d}\labsub{L} (Mpc)};
\node[inner sep=0pt,anchor=base,rotate=90] (yl1) at (112,913) {\labf \textit{ϕ}\labsub{c}};
\node[inner sep=0pt,anchor=base,rotate=90] (yl2) at (120,1317) {\labf \textit{α}};
\node[inner sep=0pt,anchor=base,rotate=90] (yl3) at (93,1721) {\labf \textit{δ}};
\node[inner sep=0pt,anchor=base,rotate=90] (yl4) at (60,2125) {\labf \textit{d}\labsub{L} (Mpc)};
\end{tikzpicture}
\end{document}
